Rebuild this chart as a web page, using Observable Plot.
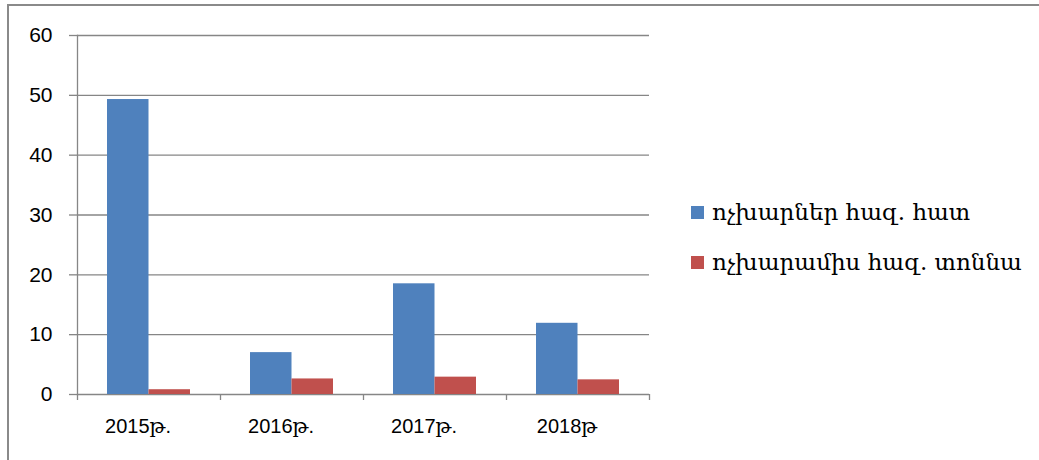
<!DOCTYPE html>
<html>
<head>
<meta charset="utf-8">
<script src="https://cdn.jsdelivr.net/npm/d3@7"></script>
<script src="https://cdn.jsdelivr.net/npm/@observablehq/plot@0.6"></script>
<style>
  html, body { margin: 0; padding: 0; background: #fff; }
  #wrap { position: relative; width: 1039px; height: 460px; overflow: hidden; }
  #border { position: absolute; left: 7px; top: 4px; right: -10px; bottom: -10px; border-top: 2px solid #8a8a8a; border-left: 2px solid #8a8a8a; pointer-events: none; }
  #legend { position: absolute; left: 691px; top: 198px; font-family: "DejaVu Serif", serif; font-size: 23px; color: #000; }
  .item { display: flex; align-items: center; height: 28px; margin-bottom: 22px; white-space: nowrap; }
  .sw { width: 13px; height: 13px; margin-right: 8px; flex: none; }
</style>
</head>
<body>
<div id="wrap">
  <div id="chart"></div>
  <div id="legend"></div>
  <div id="border"></div>
</div>
<script>
const years = ["2015թ.", "2016թ.", "2017թ.", "2018թ"];
const seriesNames = ["ոչխարներ հազ. հատ", "ոչխարամիս հազ. տոննա"];
const sheep = [49.3, 7.0, 18.5, 11.9];
const mutton = [0.8, 2.6, 2.9, 2.45];
const yTicks = [0, 10, 20, 30, 40, 50, 60];
const colors = ["#4F81BD", "#C0504D"];

const rows = [];
years.forEach((y, i) => {
  rows.push({year: y, series: seriesNames[0], value: sheep[i]});
  rows.push({year: y, series: seriesNames[1], value: mutton[i]});
});

const W = 1039, H = 460;
const mL = 77, mR = 390, mT = 35, mB = 66;
const step = (W - mL - mR) / years.length;
const barW = 41.5;
const outer = step / 2 - barW;
const half = step / 2;
const grid = "#868686";

const chart = Plot.plot({
  width: W,
  height: H,
  marginLeft: mL,
  marginRight: mR,
  marginTop: mT,
  marginBottom: mB,
  style: {fontFamily: "'Liberation Sans', 'DejaVu Serif', sans-serif", fontSize: "20px", color: "#000", background: "transparent"},
  x: {domain: years, padding: 0},
  y: {domain: [0, 60]},
  color: {domain: seriesNames, range: colors},
  marks: [
    Plot.ruleY(yTicks, {y: d => d, stroke: grid, strokeWidth: 1.3, strokeOpacity: 1}),
    Plot.axisY({ticks: yTicks, tickSize: 8, tickPadding: 17, stroke: grid, strokeWidth: 1.3, strokeOpacity: 1, label: null, fontSize: 21}),
    Plot.frame({anchor: "left", stroke: grid, strokeWidth: 1.3}),
    Plot.barY(rows.filter(d => d.series === seriesNames[0]), {x: "year", y: "value", fill: "series", insetLeft: outer, insetRight: half}),
    Plot.barY(rows.filter(d => d.series === seriesNames[1]), {x: "year", y: "value", fill: "series", insetLeft: half, insetRight: outer}),
    Plot.axisX({ticks: years, tickSize: 6, dx: -half, tickFormat: () => "", stroke: grid, strokeWidth: 1.3, strokeOpacity: 1, label: null}),
    Plot.axisX({ticks: years.slice(-1), tickSize: 6, dx: half, tickFormat: () => "", stroke: grid, strokeWidth: 1.3, strokeOpacity: 1, label: null}),
    Plot.axisX({ticks: years, tickSize: 0, tickPadding: 24, dx: -11, label: null, fontSize: 20})
  ]
});
document.getElementById("chart").appendChild(chart);

const legend = document.getElementById("legend");
seriesNames.forEach((name, i) => {
  const item = document.createElement("div");
  item.className = "item";
  const sw = document.createElement("span");
  sw.className = "sw";
  sw.style.background = colors[i];
  const t = document.createElement("span");
  t.textContent = name;
  item.appendChild(sw);
  item.appendChild(t);
  legend.appendChild(item);
});
</script>
</body>
</html>
